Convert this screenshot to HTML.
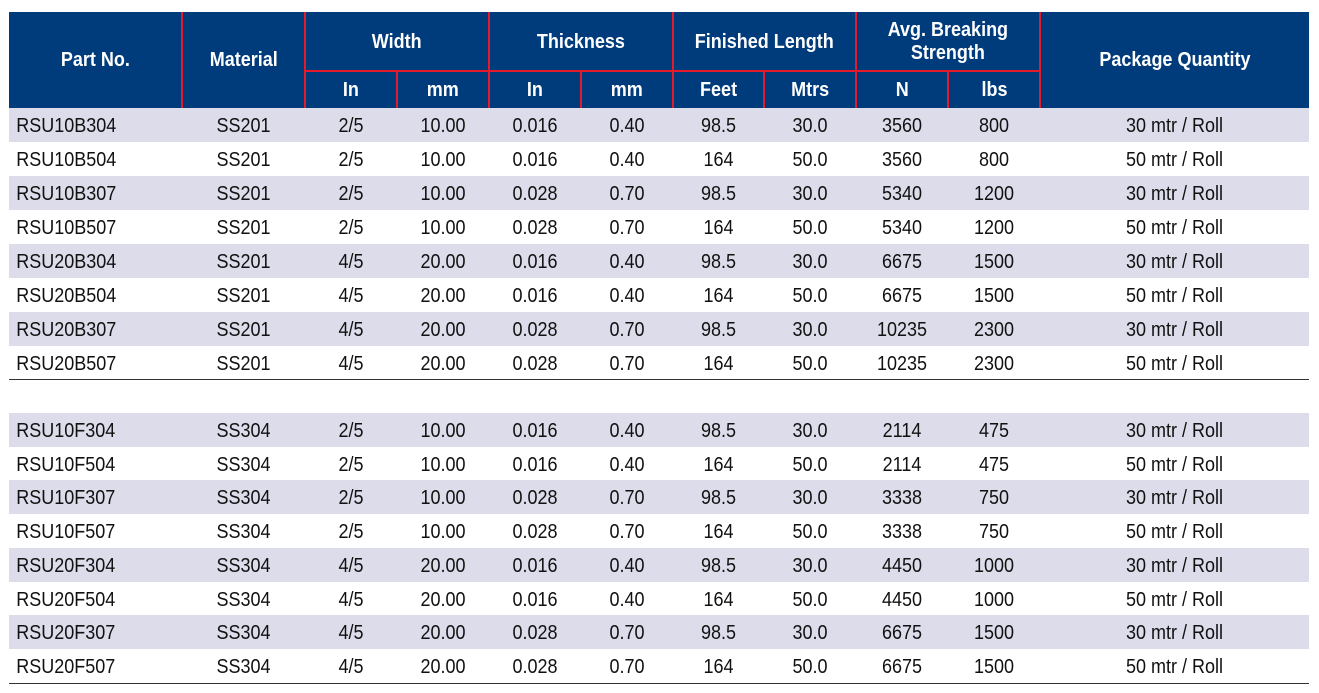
<!DOCTYPE html>
<html><head><meta charset="utf-8"><style>
*{margin:0;padding:0;box-sizing:border-box}
body{width:1319px;height:693px;background:#fff;position:relative;overflow:hidden;font-family:"Liberation Sans Narrow","Liberation Sans",sans-serif}
.h{position:absolute;background:#003b7c;color:#fff;font-weight:bold;font-size:20px;display:flex;align-items:center;justify-content:center;text-align:center;line-height:23px}
.h span{display:inline-block;transform:scaleX(.9)}
.vl{position:absolute;width:2px;background:#e31b2b}
.hl{position:absolute;height:2px;background:#e31b2b}
.r{position:absolute;left:9px;width:1300px;display:flex;font-size:20px;color:#111;align-items:center;padding-top:3px}
.r.s{background:#dcdcea}
.r div{text-align:center;transform:scaleX(.9)}
.r div.c0{text-align:left;padding-left:8px;transform-origin:0 50%}
.c0{width:173px}
.c1{width:123px}.cn{width:92px}.cl{width:269px}
.line{position:absolute;left:9px;width:1300px;height:1px;background:#333}
</style></head><body>
<div class="h" style="left:9px;top:12px;width:1300px;height:96px"></div>
<div class="h" style="left:9px;top:12px;width:173px;height:96px"><span>Part No.</span></div>
<div class="h" style="left:182px;top:12px;width:123px;height:96px"><span>Material</span></div>
<div class="h" style="left:305px;top:12px;width:184px;height:60px"><span>Width</span></div>
<div class="h" style="left:489px;top:12px;width:184px;height:60px"><span>Thickness</span></div>
<div class="h" style="left:673px;top:12px;width:183px;height:60px"><span>Finished Length</span></div>
<div class="h" style="left:856px;top:12px;width:184px;height:60px"><span>Avg. Breaking<br>Strength</span></div>
<div class="h" style="left:1040px;top:12px;width:269px;height:96px"><span>Package Quantity</span></div>
<div class="h" style="left:305px;top:72px;width:92px;height:36px"><span>In</span></div>
<div class="h" style="left:397px;top:72px;width:92px;height:36px"><span>mm</span></div>
<div class="h" style="left:489px;top:72px;width:92px;height:36px"><span>In</span></div>
<div class="h" style="left:581px;top:72px;width:92px;height:36px"><span>mm</span></div>
<div class="h" style="left:673px;top:72px;width:91px;height:36px"><span>Feet</span></div>
<div class="h" style="left:764px;top:72px;width:92px;height:36px"><span>Mtrs</span></div>
<div class="h" style="left:856px;top:72px;width:92px;height:36px"><span>N</span></div>
<div class="h" style="left:948px;top:72px;width:92px;height:36px"><span>lbs</span></div>
<div class="vl" style="left:181px;top:12px;height:96px"></div>
<div class="vl" style="left:304px;top:12px;height:96px"></div>
<div class="vl" style="left:488px;top:12px;height:96px"></div>
<div class="vl" style="left:672px;top:12px;height:96px"></div>
<div class="vl" style="left:855px;top:12px;height:96px"></div>
<div class="vl" style="left:1039px;top:12px;height:96px"></div>
<div class="vl" style="left:396px;top:71px;height:37px"></div>
<div class="vl" style="left:580px;top:71px;height:37px"></div>
<div class="vl" style="left:763px;top:71px;height:37px"></div>
<div class="vl" style="left:947px;top:71px;height:37px"></div>
<div class="hl" style="left:305px;top:70px;width:735px"></div>

<div class="r s" style="top:108px;height:34px"><div class="c0">RSU10B304</div><div class="c1">SS201</div><div class="cn">2/5</div><div class="cn">10.00</div><div class="cn">0.016</div><div class="cn">0.40</div><div class="cn" style="width:91px">98.5</div><div class="cn">30.0</div><div class="cn">3560</div><div class="cn">800</div><div class="cl">30 mtr / Roll</div></div>
<div class="r" style="top:142px;height:34px"><div class="c0">RSU10B504</div><div class="c1">SS201</div><div class="cn">2/5</div><div class="cn">10.00</div><div class="cn">0.016</div><div class="cn">0.40</div><div class="cn" style="width:91px">164</div><div class="cn">50.0</div><div class="cn">3560</div><div class="cn">800</div><div class="cl">50 mtr / Roll</div></div>
<div class="r s" style="top:176px;height:34px"><div class="c0">RSU10B307</div><div class="c1">SS201</div><div class="cn">2/5</div><div class="cn">10.00</div><div class="cn">0.028</div><div class="cn">0.70</div><div class="cn" style="width:91px">98.5</div><div class="cn">30.0</div><div class="cn">5340</div><div class="cn">1200</div><div class="cl">30 mtr / Roll</div></div>
<div class="r" style="top:210px;height:34px"><div class="c0">RSU10B507</div><div class="c1">SS201</div><div class="cn">2/5</div><div class="cn">10.00</div><div class="cn">0.028</div><div class="cn">0.70</div><div class="cn" style="width:91px">164</div><div class="cn">50.0</div><div class="cn">5340</div><div class="cn">1200</div><div class="cl">50 mtr / Roll</div></div>
<div class="r s" style="top:244px;height:34px"><div class="c0">RSU20B304</div><div class="c1">SS201</div><div class="cn">4/5</div><div class="cn">20.00</div><div class="cn">0.016</div><div class="cn">0.40</div><div class="cn" style="width:91px">98.5</div><div class="cn">30.0</div><div class="cn">6675</div><div class="cn">1500</div><div class="cl">30 mtr / Roll</div></div>
<div class="r" style="top:278px;height:34px"><div class="c0">RSU20B504</div><div class="c1">SS201</div><div class="cn">4/5</div><div class="cn">20.00</div><div class="cn">0.016</div><div class="cn">0.40</div><div class="cn" style="width:91px">164</div><div class="cn">50.0</div><div class="cn">6675</div><div class="cn">1500</div><div class="cl">50 mtr / Roll</div></div>
<div class="r s" style="top:312px;height:34px"><div class="c0">RSU20B307</div><div class="c1">SS201</div><div class="cn">4/5</div><div class="cn">20.00</div><div class="cn">0.028</div><div class="cn">0.70</div><div class="cn" style="width:91px">98.5</div><div class="cn">30.0</div><div class="cn">10235</div><div class="cn">2300</div><div class="cl">30 mtr / Roll</div></div>
<div class="r" style="top:346px;height:33px"><div class="c0">RSU20B507</div><div class="c1">SS201</div><div class="cn">4/5</div><div class="cn">20.00</div><div class="cn">0.028</div><div class="cn">0.70</div><div class="cn" style="width:91px">164</div><div class="cn">50.0</div><div class="cn">10235</div><div class="cn">2300</div><div class="cl">50 mtr / Roll</div></div>
<div class="line" style="top:379px"></div>

<div class="r s" style="top:413px;height:34px"><div class="c0">RSU10F304</div><div class="c1">SS304</div><div class="cn">2/5</div><div class="cn">10.00</div><div class="cn">0.016</div><div class="cn">0.40</div><div class="cn" style="width:91px">98.5</div><div class="cn">30.0</div><div class="cn">2114</div><div class="cn">475</div><div class="cl">30 mtr / Roll</div></div>
<div class="r" style="top:447px;height:33px"><div class="c0">RSU10F504</div><div class="c1">SS304</div><div class="cn">2/5</div><div class="cn">10.00</div><div class="cn">0.016</div><div class="cn">0.40</div><div class="cn" style="width:91px">164</div><div class="cn">50.0</div><div class="cn">2114</div><div class="cn">475</div><div class="cl">50 mtr / Roll</div></div>
<div class="r s" style="top:480px;height:34px"><div class="c0">RSU10F307</div><div class="c1">SS304</div><div class="cn">2/5</div><div class="cn">10.00</div><div class="cn">0.028</div><div class="cn">0.70</div><div class="cn" style="width:91px">98.5</div><div class="cn">30.0</div><div class="cn">3338</div><div class="cn">750</div><div class="cl">30 mtr / Roll</div></div>
<div class="r" style="top:514px;height:34px"><div class="c0">RSU10F507</div><div class="c1">SS304</div><div class="cn">2/5</div><div class="cn">10.00</div><div class="cn">0.028</div><div class="cn">0.70</div><div class="cn" style="width:91px">164</div><div class="cn">50.0</div><div class="cn">3338</div><div class="cn">750</div><div class="cl">50 mtr / Roll</div></div>
<div class="r s" style="top:548px;height:34px"><div class="c0">RSU20F304</div><div class="c1">SS304</div><div class="cn">4/5</div><div class="cn">20.00</div><div class="cn">0.016</div><div class="cn">0.40</div><div class="cn" style="width:91px">98.5</div><div class="cn">30.0</div><div class="cn">4450</div><div class="cn">1000</div><div class="cl">30 mtr / Roll</div></div>
<div class="r" style="top:582px;height:33px"><div class="c0">RSU20F504</div><div class="c1">SS304</div><div class="cn">4/5</div><div class="cn">20.00</div><div class="cn">0.016</div><div class="cn">0.40</div><div class="cn" style="width:91px">164</div><div class="cn">50.0</div><div class="cn">4450</div><div class="cn">1000</div><div class="cl">50 mtr / Roll</div></div>
<div class="r s" style="top:615px;height:34px"><div class="c0">RSU20F307</div><div class="c1">SS304</div><div class="cn">4/5</div><div class="cn">20.00</div><div class="cn">0.028</div><div class="cn">0.70</div><div class="cn" style="width:91px">98.5</div><div class="cn">30.0</div><div class="cn">6675</div><div class="cn">1500</div><div class="cl">30 mtr / Roll</div></div>
<div class="r" style="top:649px;height:34px"><div class="c0">RSU20F507</div><div class="c1">SS304</div><div class="cn">4/5</div><div class="cn">20.00</div><div class="cn">0.028</div><div class="cn">0.70</div><div class="cn" style="width:91px">164</div><div class="cn">50.0</div><div class="cn">6675</div><div class="cn">1500</div><div class="cl">50 mtr / Roll</div></div>
<div class="line" style="top:683px"></div>
</body></html>
